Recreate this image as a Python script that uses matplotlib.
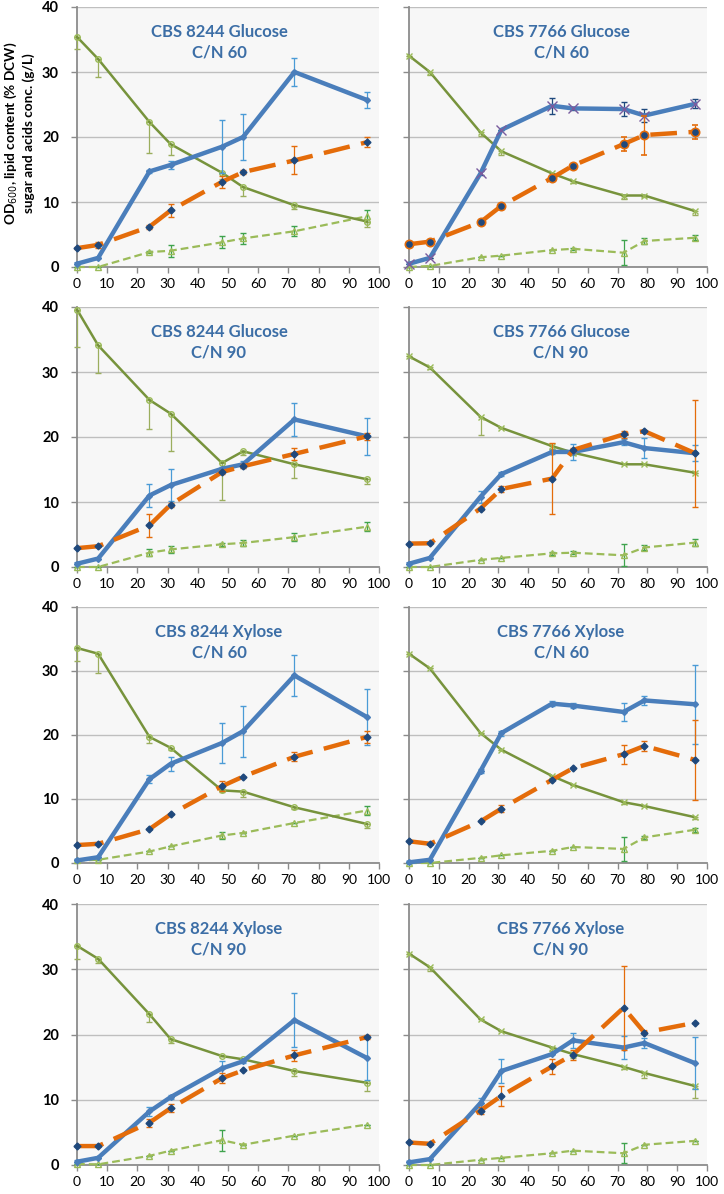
import matplotlib
matplotlib.use("Agg")
import matplotlib.pyplot as plt

plt.rcParams['font.family'] = ['Lato', 'DejaVu Sans']

# sampling times (h)
t_8244 = [0, 7, 24, 31, 48, 55, 72, 96]
t_7766 = [0, 7, 24, 31, 48, 55, 72, 79, 96]

titles = ["CBS 8244 Glucose\nC/N 60", "CBS 7766 Glucose\nC/N 60",
          "CBS 8244 Glucose\nC/N 90", "CBS 7766 Glucose\nC/N 90",
          "CBS 8244 Xylose\nC/N 60", "CBS 7766 Xylose\nC/N 60",
          "CBS 8244 Xylose\nC/N 90", "CBS 7766 Xylose\nC/N 90"]

# OD600
od = [[0.5, 1.4, 14.7, 15.7, 18.5, 20.0, 30.0, 25.7],
      [0.5, 1.4, 14.4, 21.1, 24.8, 24.4, 24.3, 23.3, 25.1],
      [0.5, 1.3, 11.0, 12.6, 15.1, 15.8, 22.7, 20.1],
      [0.5, 1.4, 10.8, 14.3, 17.7, 17.7, 19.2, 18.3, 17.5],
      [0.4, 0.9, 13.1, 15.5, 18.75, 20.6, 29.3, 22.8],
      [0.1, 0.5, 14.4, 20.3, 24.9, 24.6, 23.6, 25.4, 24.8],
      [0.5, 1.1, 8.2, 10.4, 14.8, 15.9, 22.2, 16.4],
      [0.4, 0.9, 9.5, 14.4, 17.0, 19.1, 18.0, 18.7, 15.6]]
od_err = [[0, 0, 0.3, 0.6, 4.1, 3.6, 2.1, 1.2],
          [0, 0, 0.3, 0, 1.2, 0.2, 1.1, 1.0, 0.7],
          [0, 0, 1.8, 2.5, 0.3, 0.5, 2.6, 2.8],
          [0, 0, 0.9, 0.3, 0.3, 1.2, 0.5, 1.6, 1.2],
          [0, 0, 0.6, 1.1, 3.2, 4.0, 3.2, 4.4],
          [0, 0, 0.3, 0.4, 0.4, 0.4, 1.4, 0.7, 6.2],
          [0, 0, 0.7, 0.3, 1.2, 0.3, 4.1, 3.3],
          [0, 0, 0.7, 1.8, 0, 1.2, 1.7, 0.8, 4.0]]

# lipid content (% DCW)
lipid = [[2.9, 3.4, 6.2, 8.7, 13.1, 14.6, 16.4, 19.2],
         [3.5, 3.9, 6.9, 9.4, 13.7, 15.6, 18.9, 20.3, 20.8],
         [2.9, 3.2, 6.4, 9.6, 14.6, 15.5, 17.4, 20.1],
         [3.6, 3.65, 9.0, 12.0, 13.6, 18.0, 20.4, 20.9, 17.5],
         [2.8, 3.0, 5.3, 7.6, 12.0, 13.5, 16.6, 19.7],
         [3.4, 3.0, 6.5, 8.5, 13.0, 14.8, 17.0, 18.3, 16.1],
         [2.9, 2.9, 6.5, 8.7, 13.3, 14.5, 16.8, 19.6],
         [3.45, 3.25, 8.35, 10.6, 15.1, 16.9, 24.1, 20.3, 21.8]]
lipid_err = [[0.2, 0.4, 0.3, 1.0, 0.9, 0.3, 2.15, 0.8],
             [0, 0, 0, 0, 0.3, 0, 1.1, 3.0, 1.1],
             [0, 0, 1.8, 0.3, 0.3, 0.3, 0.9, 0.5],
             [0, 0, 0.3, 0.5, 5.5, 0.3, 0.5, 0.2, 8.2],
             [0, 0, 0, 0, 0.8, 0, 0.7, 1.0],
             [0, 0, 0, 0.6, 0, 0, 1.5, 0.8, 6.3],
             [0, 0, 0.6, 0.6, 0.8, 0, 0.8, 0.3],
             [0, 0, 0.6, 1.5, 1.1, 0.8, 6.4, 0, 0]]

# residual sugar (g/L), error shown below the point only
sugar = [[35.4, 32.0, 22.3, 18.9, 14.5, 12.3, 9.5, 7.0],
         [32.5, 30.0, 20.7, 17.8, 14.4, 13.2, 11.0, 11.0, 8.6],
         [39.6, 34.1, 25.7, 23.6, 16.0, 17.8, 15.8, 13.5],
         [32.4, 30.7, 23.1, 21.4, 18.6, 17.6, 15.8, 15.8, 14.5],
         [33.6, 32.7, 19.7, 18.0, 11.35, 11.15, 8.7, 6.1],
         [32.7, 30.4, 20.3, 17.7, 13.6, 12.2, 9.5, 8.9, 7.15],
         [33.6, 31.6, 23.1, 19.3, 16.7, 16.2, 14.4, 12.6],
         [32.4, 30.3, 22.3, 20.5, 18.0, 17.0, 15.05, 14.1, 12.1]]
sugar_err = [[1.8, 2.7, 4.7, 1.6, 1.0, 1.4, 0.6, 0.8],
             [0, 0.4, 0.6, 0.6, 0.3, 0.3, 0.6, 0.3, 0.6],
             [5.8, 4.3, 4.4, 5.8, 5.7, 0.5, 2.1, 0.8],
             [0, 0.3, 2.8, 0, 0.5, 0.3, 0, 0, 0],
             [2.0, 3.0, 1.0, 0.3, 0.3, 0.8, 0.3, 0.6],
             [0, 0, 0, 0, 0.3, 0, 0.3, 0, 0.2],
             [2.0, 0.6, 1.2, 0.6, 0, 0.3, 0.7, 1.3],
             [0, 0.6, 0, 0, 0.5, 0.6, 0.4, 0.7, 1.8]]

# organic acids (g/L)
acid = [[0, 0, 2.3, 2.5, 3.8, 4.4, 5.5, 7.8],
        [0, 0.15, 1.5, 1.75, 2.6, 2.8, 2.2, 4.0, 4.5],
        [0, 0, 2.2, 2.7, 3.5, 3.7, 4.6, 6.2],
        [0, 0, 1.1, 1.4, 2.1, 2.2, 1.8, 3.0, 3.75],
        [0.4, 0.5, 1.8, 2.6, 4.3, 4.7, 6.25, 8.2],
        [0, 0, 0.8, 1.2, 1.9, 2.5, 2.2, 4.0, 5.2],
        [0.15, 0.1, 1.4, 2.2, 3.8, 3.1, 4.5, 6.2],
        [0, 0, 0.8, 1.1, 1.8, 2.2, 1.8, 3.1, 3.7]]
acid_err = [[0, 0, 0.2, 0.9, 0.9, 0.8, 0.8, 0.9],
            [0, 0, 0, 0, 0, 0.2, 1.9, 0.4, 0.4],
            [0, 0, 0.5, 0.6, 0.2, 0.4, 0.6, 0.7],
            [0, 0, 0, 0, 0.2, 0.2, 1.7, 0.4, 0.5],
            [0, 0, 0, 0, 0.6, 0, 0, 0.7],
            [0, 0, 0, 0, 0, 0, 1.9, 0.2, 0.3],
            [0, 0, 0, 0, 1.6, 0, 0, 0],
            [0, 0, 0, 0, 0, 0, 1.5, 0, 0]]

blue = '#4A7EBB'
orange = '#E46C0A'
olive = '#77933C'
lgreen = '#9BBB59'
navy = '#1F497D'
title_col = '#3C6EA6'

fig = plt.figure(figsize=(7.24, 11.94), dpi=100)

# axes boxes in pixels: (left, right) per column, (top, bottom) per row
cols = [(77, 379), (409, 707)]
rows = [(7, 267), (307, 567), (607, 863), (904, 1165)]
W, H = 724.0, 1194.0

for i in range(8):
    r, c = i // 2, i % 2
    x0, x1 = cols[c]
    y0, y1 = rows[r]
    ax = fig.add_axes([x0 / W, 1 - y1 / H, (x1 - x0) / W, (y1 - y0) / H])
    ax.set_facecolor('#F7F7F7')
    t = t_8244 if c == 0 else t_7766

    # acids
    ax.errorbar(t, acid[i], yerr=acid_err[i], color=lgreen, lw=1.6, dashes=(3.5, 1.8),
                marker='^', ms=4, mfc='none', mec=lgreen, ecolor='#3FA34D',
                elinewidth=0.9, capsize=2, clip_on=False, zorder=3)
    # sugar (minus error only)
    ax.errorbar(t, sugar[i], yerr=[sugar_err[i], [0] * len(t)], color=olive, lw=1.8,
                marker='o' if c == 0 else 'x', ms=4, mfc='none', mec=lgreen,
                ecolor='#9BAE5E', elinewidth=0.9, capsize=2, clip_on=False, zorder=4)
    # OD600
    if i == 1:
        ax.errorbar(t, od[i], yerr=od_err[i], color=blue, lw=3.2, marker='x', ms=7,
                    mec='#7A5C9E', mew=1.0, ecolor=navy, elinewidth=0.9, capsize=2,
                    clip_on=False, zorder=5)
    else:
        ax.errorbar(t, od[i], yerr=od_err[i], color=blue, lw=3.2, marker='D', ms=3,
                    mfc=blue, mec=blue, ecolor='#4A9BD6', elinewidth=0.9, capsize=2,
                    clip_on=False, zorder=5)
    # lipid
    if i == 1:
        ax.errorbar(t, lipid[i], yerr=lipid_err[i], color=orange, lw=3.2, dashes=(6, 2.6),
                    marker='o', ms=6, mfc=navy, mec=orange, mew=1.2, ecolor=orange,
                    elinewidth=0.9, capsize=2, clip_on=False, zorder=6)
    else:
        ax.errorbar(t, lipid[i], yerr=lipid_err[i], color=orange, lw=3.2, dashes=(6, 2.6),
                    marker='D', ms=3.5, mfc=navy, mec=navy, ecolor=orange,
                    elinewidth=0.9, capsize=2, clip_on=False, zorder=6)

    ax.set_xlim(0, 100)
    ax.set_ylim(0, 40)
    ax.set_xticks(range(0, 101, 10))
    ax.set_yticks(range(0, 41, 10))
    ax.yaxis.grid(True, color='#BFBFBF', lw=1.0)
    ax.set_axisbelow(True)
    for s in ['top', 'right']:
        ax.spines[s].set_visible(False)
    for s in ['left', 'bottom']:
        ax.spines[s].set_color('#8C8C8C')
        ax.spines[s].set_linewidth(1.3)
    ax.tick_params(axis='both', direction='out', length=4, color='#8C8C8C', width=1)
    ax.tick_params(axis='x', labelsize=10, pad=4)
    if c == 0:
        ax.tick_params(axis='y', labelsize=10.5, pad=9)
        for lab in ax.get_yticklabels():
            lab.set_fontweight('bold')
    else:
        ax.set_yticklabels([])

    ax.text(0.47 if c == 0 else 0.51, 0.935, titles[i], transform=ax.transAxes,
            ha='center', va='top', fontsize=12, fontweight='bold', color=title_col,
            linespacing=1.35)

fig.text(19 / W, 1 - 133 / H,
         "OD$_{\\mathit{600}}$, lipid content (% DCW)\nsugar and acids conc. (g/L)",
         rotation=90, ha='center', va='center', fontsize=9.8, fontweight='bold',
         linespacing=1.3)

fig.savefig("out.png", dpi=100)
